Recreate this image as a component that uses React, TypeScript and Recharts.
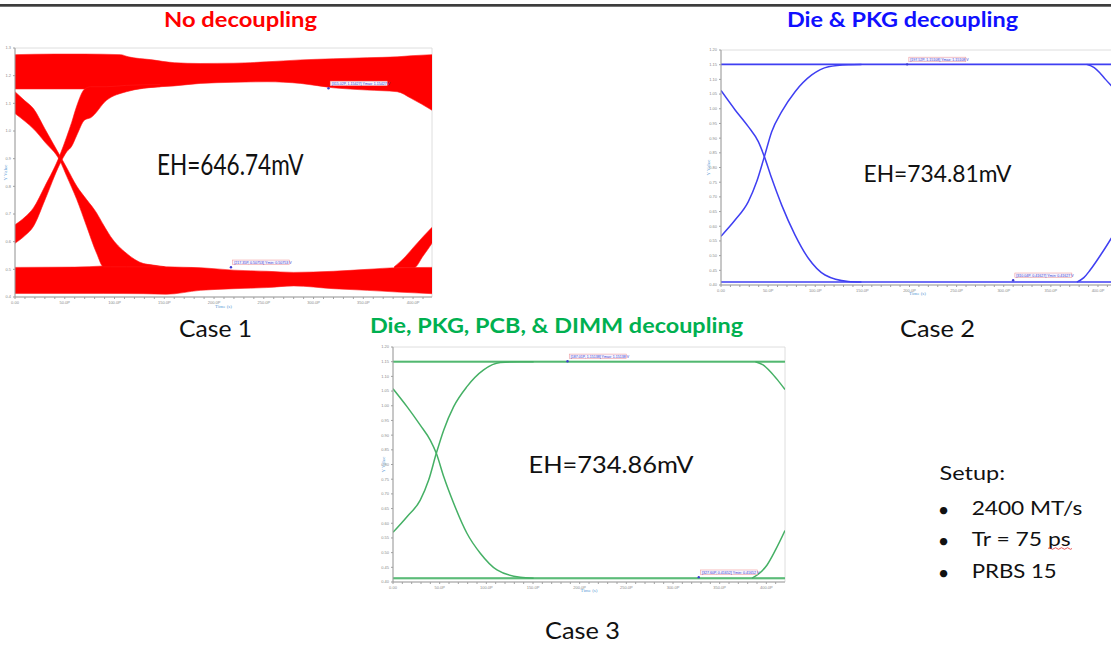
import React from 'react';
import { ComposedChart, Area, Line, XAxis, YAxis, ReferenceArea, ReferenceDot } from 'recharts';

// Case 1 - no decoupling. Bands as [time ps, low V, high V]
const c1TopBand = [
  [0, 1.152, 1.276], [40, 1.152, 1.278], [70, 1.152, 1.278], [106, 1.15, 1.276],
  [114, 1.15, 1.268], [136, 1.158, 1.258], [160, 1.163, 1.247], [186, 1.172, 1.244],
  [220, 1.176, 1.245], [253, 1.178, 1.25], [287, 1.172, 1.257], [320, 1.156, 1.261],
  [354, 1.148, 1.265], [384, 1.142, 1.268], [398, 1.118, 1.272], [419, 1.075, 1.276],
];
const c1BottomBand = [
  [0, 0.413, 0.507], [60, 0.413, 0.508], [89, 0.413, 0.512], [129, 0.412, 0.519],
  [152, 0.41, 0.509], [186, 0.424, 0.506], [220, 0.43, 0.497], [253, 0.434, 0.493],
  [280, 0.44, 0.489], [320, 0.43, 0.493], [354, 0.424, 0.5], [384, 0.418, 0.506],
  [419, 0.412, 0.507],
];
const c1FallBand = [
  [0, 1.063, 1.142], [10, 1.035, 1.109], [18.5, 1.008, 1.081], [30, 0.96, 1.008],
  [45, 0.893, 0.912], [52, 0.836, 0.867], [62, 0.753, 0.801], [72, 0.655, 0.752],
  [82, 0.558, 0.704], [89, 0.509, 0.66], [96, 0.509, 0.619], [112, 0.509, 0.558],
  [129, 0.509, 0.521], [150, 0.509, 0.51],
];
const c1RiseBand = [
  [0, 0.594, 0.661], [10, 0.622, 0.689], [18.5, 0.655, 0.722], [30, 0.75, 0.8],
  [45, 0.88, 0.912], [52, 0.925, 0.98], [57, 0.945, 1.032], [62, 0.984, 1.09],
  [70, 1.04, 1.152], [76, 1.048, 1.16], [92, 1.111, 1.16], [112, 1.142, 1.165],
  [146, 1.16, 1.168],
];
const c1RiseNextBand = [
  [381, 0.505, 0.509], [392, 0.506, 0.545], [401, 0.506, 0.582], [410, 0.548, 0.618],
  [419, 0.594, 0.652],
];

// Case 2 - die & pkg decoupling. Traces as [time ps, V]
const c2Top = [[0, 1.151], [417, 1.151]];
const c2Bottom = [[0, 0.41], [417, 0.41]];
const c2Fall = [
  [0, 1.062], [15, 0.996], [29, 0.939], [39.6, 0.888], [46, 0.837], [53.8, 0.763],
  [64.4, 0.672], [78.6, 0.57], [92.7, 0.491], [110.4, 0.434], [135, 0.412], [149, 0.41],
];
const c2Rise = [
  [0, 0.566], [14.9, 0.621], [29, 0.684], [37.9, 0.752], [46, 0.837], [53.8, 0.922],
  [64.4, 0.99], [78.6, 1.058], [96.3, 1.115], [114, 1.143], [135, 1.15], [149, 1.151],
];
const c2FallNext = [[388, 1.151], [396, 1.14], [402.3, 1.121], [408, 1.1], [417, 1.068]];
const c2RiseNext = [[377.6, 0.41], [385, 0.425], [391.7, 0.451], [404, 0.508], [417, 0.574]];

// Case 3 - die, pkg, pcb & dimm decoupling
const c3Top = [[0, 1.15], [420, 1.15]];
const c3Bottom = [[0, 0.413], [420, 0.413]];
const c3Fall = [
  [0, 1.058], [15, 0.997], [29.2, 0.934], [39.9, 0.883], [46.4, 0.838], [54.3, 0.759],
  [65, 0.668], [79.2, 0.566], [93.5, 0.498], [111.4, 0.441], [136.3, 0.416], [150.7, 0.413],
];
const c3Rise = [
  [0, 0.569], [15, 0.622], [29.2, 0.679], [38.2, 0.747], [46.4, 0.838], [54.3, 0.917],
  [65, 0.997], [79.2, 1.065], [97.1, 1.122], [114.9, 1.147], [136.3, 1.15], [150.7, 1.15],
];
const c3FallNext = [[388.3, 1.15], [396, 1.14], [404.4, 1.116], [412, 1.088], [420, 1.055]];
const c3RiseNext = [[384.7, 0.413], [392, 0.428], [400.8, 0.458], [410, 0.51], [420, 0.575]];

// eye-height markers [time ps, V]
const c1Markers = [[315, 1.1543], [217, 0.5076]];
const c2Markers = [[197.5, 1.1511], [310, 0.4163]];
const c3Markers = [[187, 1.1514], [327.6, 0.4165]];

const timeTicks = [
  0, 10, 20, 30, 40, 50, 60, 70, 80, 90, 100, 110, 120, 130, 140, 150, 160, 170, 180, 190, 200,
  210, 220, 230, 240, 250, 260, 270, 280, 290, 300, 310, 320, 330, 340, 350, 360, 370, 380, 390,
  400, 410,
];
const c1VoltTicks = [0.4, 0.5, 0.6, 0.7, 0.8, 0.9, 1.0, 1.1, 1.2, 1.3];
const voltTicks = [
  0.4, 0.45, 0.5, 0.55, 0.6, 0.65, 0.7, 0.75, 0.8, 0.85, 0.9, 0.95, 1.0, 1.05, 1.1, 1.15, 1.2,
];

const setupLines = ['2400 MT/s', 'Tr = 75 ps', 'PRBS 15'];

const toPts = (arr: number[][]) => arr.map(([t, v]) => ({ t, v }));
const toBand = (arr: number[][]) => arr.map(([t, lo, hi]) => ({ t, r: [lo, hi] }));

const AXIS_TXT = { fontSize: 4, fill: '#8a8a8a', fontFamily: 'Liberation Sans, Arial, sans-serif' };
const fmtTime = (t: number) => (t % 50 !== 0 ? '' : t === 0 ? '0.00' : `${t}.0P`);

const markerLabel = (text: string) => (p: any) => {
  const vb = p && p.viewBox;
  if (!vb) return null;
  const x = vb.x + vb.width + 0.5;
  const y = vb.y - 6;
  return (
    <g>
      <rect x={x} y={y} width={57} height={4.6} fill="#f4f4ff" stroke="#f09090" strokeWidth={0.5} />
      <text x={x + 1.5} y={y + 3.6} fontSize={3.6} fill="#3b3bd0" fontFamily="Liberation Sans, Arial">
        {text}
      </text>
    </g>
  );
};

function EyeFrame({ left, top, width, height, yWidth, xHeight, xMax, yDomain, yTicks, yDigits, yLabelOffset, xLabelOffset, children }: any) {
  return (
    <div style={{ position: 'absolute', left, top }}>
      <ComposedChart width={width} height={height} margin={{ top: 8, right: 8, left: 0, bottom: 0 }}>
        <XAxis
          type="number"
          dataKey="t"
          domain={[0, xMax]}
          ticks={timeTicks}
          interval={0}
          allowDataOverflow
          tickFormatter={fmtTime}
          tick={AXIS_TXT}
          tickSize={2}
          height={xHeight}
          stroke="#a0a0a0"
          label={{ value: 'Time (s)', position: 'insideBottom', offset: xLabelOffset, fontSize: 5, fill: '#5b9bd5' }}
        />
        <YAxis
          type="number"
          domain={yDomain}
          ticks={yTicks}
          interval={0}
          allowDataOverflow
          tickFormatter={(v: number) => v.toFixed(yDigits)}
          tick={AXIS_TXT}
          tickSize={2}
          width={yWidth}
          stroke="#a0a0a0"
          label={{ value: 'Y Value', angle: -90, position: 'insideLeft', offset: yLabelOffset, fontSize: 5, fill: '#5b9bd5', style: { textAnchor: 'middle' } }}
        />
        <ReferenceArea x1={0} x2={xMax} y1={yDomain[0]} y2={yDomain[1]} fill="none" stroke="#d6d6d6" strokeWidth={0.8} />
        {children}
      </ComposedChart>
    </div>
  );
}

const band = (key: string, rows: number[][]) => (
  <Area
    key={key}
    data={toBand(rows)}
    dataKey="r"
    type="monotone"
    fill="#ff0000"
    fillOpacity={1}
    stroke="#ff1a1a"
    strokeWidth={0.6}
    isAnimationActive={false}
  />
);

const trace = (key: string, rows: number[][], color: string, w = 1.5) => (
  <Line
    key={key}
    data={toPts(rows)}
    dataKey="v"
    type="monotone"
    stroke={color}
    strokeWidth={w}
    dot={false}
    isAnimationActive={false}
  />
);

const markers = (rows: number[][], texts: string[]) =>
  rows.map(([t, v], i) => (
    <ReferenceDot key={`m${i}`} x={t} y={v} r={1.2} fill="#3b3bd0" stroke="none" label={markerLabel(texts[i])} />
  ));

const BLUE = '#3f3ff2';
const GREEN = '#45b065';
const TXT = 'Lato, "Open Sans", sans-serif';

export default function App() {
  return (
    <div style={{ position: 'absolute', left: 0, top: 0, width: 1111, height: 645, background: '#fff', overflow: 'hidden' }}>
      <EyeFrame left={0} top={40} width={440} height={275} yWidth={15} xHeight={18} xMax={419}
        yDomain={[0.4, 1.3]} yTicks={c1VoltTicks} yDigits={1} yLabelOffset={5} xLabelOffset={7}>
        {band('top', c1TopBand)}
        {band('bot', c1BottomBand)}
        {band('fall', c1FallBand)}
        {band('rise', c1RiseBand)}
        {band('riseN', c1RiseNextBand)}
        {markers(c1Markers, ['[315.02P, 1.15427] Ymax: 1.15427 V', '[217.35P, 0.50753] Ymin: 0.50753 V'])}
      </EyeFrame>

      <EyeFrame left={690} top={42} width={432} height={258} yWidth={31} xHeight={15} xMax={417}
        yDomain={[0.4, 1.2]} yTicks={voltTicks} yDigits={2} yLabelOffset={18} xLabelOffset={5}>
        {trace('top', c2Top, BLUE, 1.6)}
        {trace('bot', c2Bottom, BLUE, 1.6)}
        {trace('fall', c2Fall, BLUE)}
        {trace('rise', c2Rise, BLUE)}
        {trace('fallN', c2FallNext, BLUE)}
        {trace('riseN', c2RiseNext, BLUE)}
        {markers(c2Markers, ['[197.52P, 1.15108] Ymax: 1.15108 V', '[310.04P, 0.41627] Ymin: 0.41627 V'])}
      </EyeFrame>

      <EyeFrame left={370} top={339} width={423} height={258} yWidth={23} xHeight={15} xMax={420}
        yDomain={[0.4, 1.2]} yTicks={voltTicks} yDigits={2} yLabelOffset={13} xLabelOffset={5}>
        {trace('top', c3Top, '#8fd3a2', 2.4)}
        {trace('bot', c3Bottom, '#8fd3a2', 2.4)}
        {trace('top2', c3Top, GREEN, 1)}
        {trace('bot2', c3Bottom, GREEN, 1)}
        {trace('fall', c3Fall, GREEN)}
        {trace('rise', c3Rise, GREEN)}
        {trace('fallN', c3FallNext, GREEN)}
        {trace('riseN', c3RiseNext, GREEN)}
        {markers(c3Markers, ['[187.01P, 1.15138] Ymax: 1.15138 V', '[327.60P, 0.41652] Ymin: 0.41652 V'])}
      </EyeFrame>

      <svg width={1111} height={645} style={{ position: 'absolute', left: 0, top: 0, pointerEvents: 'none' }}>
        <rect x={0} y={4} width={1111} height={2.7} fill="#3d3d3d" />

        <text x={164} y={26.5} fontSize={21} fontWeight={700} fontFamily={TXT} fill="#ff0000" textLength={153} lengthAdjust="spacingAndGlyphs">No decoupling</text>
        <text x={787} y={26.5} fontSize={21} fontWeight={700} fontFamily={TXT} fill="#1010ff" textLength={231} lengthAdjust="spacingAndGlyphs">Die &amp; PKG decoupling</text>
        <text x={370} y={333.3} fontSize={21} fontWeight={700} fontFamily={TXT} fill="#00b050" textLength={373} lengthAdjust="spacingAndGlyphs">Die, PKG, PCB, &amp; DIMM decoupling</text>

        <text x={157} y={175} fontSize={28} fontFamily={TXT} fill="#111" textLength={146.5} lengthAdjust="spacingAndGlyphs">EH=646.74mV</text>
        <text x={863.5} y={181.5} fontSize={23} fontFamily={TXT} fill="#111" textLength={148} lengthAdjust="spacingAndGlyphs">EH=734.81mV</text>
        <text x={528.5} y={473.3} fontSize={23} fontFamily={TXT} fill="#111" textLength={165} lengthAdjust="spacingAndGlyphs">EH=734.86mV</text>

        <text x={179} y={337} fontSize={24} fontFamily={TXT} fill="#111" textLength={73} lengthAdjust="spacingAndGlyphs">Case 1</text>
        <text x={900} y={337} fontSize={24} fontFamily={TXT} fill="#111" textLength={75} lengthAdjust="spacingAndGlyphs">Case 2</text>
        <text x={545} y={639} fontSize={24} fontFamily={TXT} fill="#111" textLength={75} lengthAdjust="spacingAndGlyphs">Case 3</text>

        <text x={939.5} y={479.5} fontSize={20} fontFamily={TXT} fill="#111" textLength={65.5} lengthAdjust="spacingAndGlyphs">Setup:</text>
        {setupLines.map((s, i) => (
          <g key={s}>
            <text x={943.5} y={516.5 + i * 31.8} fontSize={20} fontFamily={TXT} fill="#111" textAnchor="middle">•</text>
            <text x={971.7} y={514.5 + i * 31.8} fontSize={20} fontFamily={TXT} fill="#111"
              textLength={[110.6, 99, 85][i]} lengthAdjust="spacingAndGlyphs">{s}</text>
          </g>
        ))}
        <path d="M1048 548.5 q1.5 -1.6 3 0 t3 0 t3 0 t3 0 t3 0 t3 0 t3 0 t3 0" fill="none" stroke="#e03030" strokeWidth={0.8} />
      </svg>
    </div>
  );
}
